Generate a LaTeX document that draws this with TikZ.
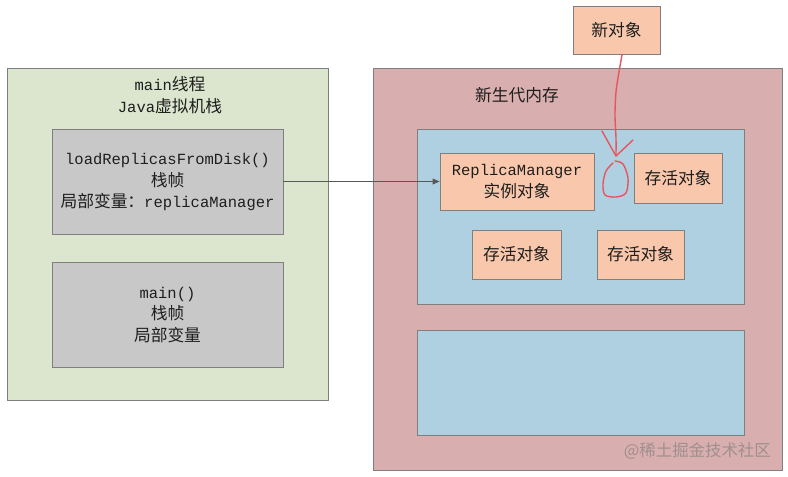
\documentclass[tikz,border=0pt]{standalone}
\usepackage{fontspec}
\setmainfont{Liberation Mono}
\newfontfamily\cjk[Scale=1.08]{Noto Sans CJK SC}
\usetikzlibrary{arrows.meta}
\definecolor{pgreen}{HTML}{DCE6CF}
\definecolor{pgray}{HTML}{C8C8C8}
\definecolor{ppink}{HTML}{D9AEAE}
\definecolor{pblue}{HTML}{AFD0E0}
\definecolor{psalmon}{HTML}{F9C8AC}
\definecolor{pborder}{HTML}{7F7F7F}
\definecolor{ptext}{HTML}{1E1E1E}
\definecolor{pred}{HTML}{E8555E}
\definecolor{pwm}{HTML}{A08F8F}
\tikzset{
  panel/.style={draw=pborder, line width=0.9pt, rectangle, inner sep=0pt},
  txt/.style={text=ptext, align=center, font=\fontsize{15.5}{21.5}\selectfont},
  cjktxt/.style={text=ptext, align=center, font=\fontsize{15.5}{21.5}\selectfont\cjk},
}
\begin{document}
\begin{tikzpicture}[x=1pt,y=-1pt]
\useasboundingbox (0,0) rectangle (788,477);
\fill[white] (0,0) rectangle (788,477);
% left panel
\node[panel, fill=pgreen, minimum width=321pt, minimum height=332pt] (stack) at (167.5,234) {};
\node[txt] (stacktitle) at (170,95) {main{\cjk 线程}\\Java{\cjk 虚拟机栈}};
\node[panel, fill=pgray, minimum width=231pt, minimum height=105pt] (frame1) at (167.5,181.5) {};
\node[txt] (frame1t) at (167.5,182) {loadReplicasFromDisk()\\{\cjk 栈帧}\\{\cjk 局部变量：}replicaManager};
\node[panel, fill=pgray, minimum width=231pt, minimum height=105pt] (frame2) at (167.5,314.5) {};
\node[txt] (frame2t) at (167.5,315) {main()\\{\cjk 栈帧}\\{\cjk 局部变量}};
% right panel
\node[panel, fill=ppink, minimum width=409pt, minimum height=402pt] (young) at (577.5,269) {};
\node[cjktxt] (youngt) at (517,95) {新生代内存};
\node[panel, fill=pblue, minimum width=327pt, minimum height=175pt] (eden) at (580.5,216.5) {};
\node[panel, fill=pblue, minimum width=327pt, minimum height=105pt] (surv) at (580.5,382.5) {};
\node[panel, fill=psalmon, minimum width=154pt, minimum height=57pt] (rm) at (517,181.5) {};
\node[txt] (rmt) at (517,181.5) {ReplicaManager\\{\cjk 实例对象}};
\node[panel, fill=psalmon, minimum width=88pt, minimum height=50pt, cjktxt] (s1) at (678,178) {存活对象};
\node[panel, fill=psalmon, minimum width=89pt, minimum height=49pt, cjktxt] (s2) at (516.5,254.5) {存活对象};
\node[panel, fill=psalmon, minimum width=87pt, minimum height=49pt, cjktxt] (s3) at (640.5,254.5) {存活对象};
\node[panel, fill=psalmon, minimum width=87pt, minimum height=48pt, cjktxt] (newobj) at (616.5,30) {新对象};
% arrow
\draw[draw=black!65, line width=0.9pt, -{Triangle[length=7pt,width=6pt]}] (frame1.east) -- (rm.west);
% red hand drawing
\coordinate (rs) at (622,55);
\coordinate (rtip) at (616,156);
\draw[pred, line width=1.4pt, line cap=round, line join=round] plot[smooth] coordinates {(rs) (619,72) (616,92) (615,115) (616,138) (rtip)};
\draw[pred, line width=1.4pt, line cap=round, line join=round] (602,131) -- (rtip) -- (633,140);
\draw[pred, line width=1.4pt, line cap=round, line join=round] plot[smooth] coordinates {(613,163) (606,171) (603,184) (605,195) (616,197) (626,193) (628,178) (623,164) (615,161)};
% watermark
\node[text=pwm, font=\fontsize{15.2}{20}\selectfont\cjk, anchor=east, inner sep=0pt] (wm) at (771,451) {@稀土掘金技术社区};
\end{tikzpicture}
\end{document}
